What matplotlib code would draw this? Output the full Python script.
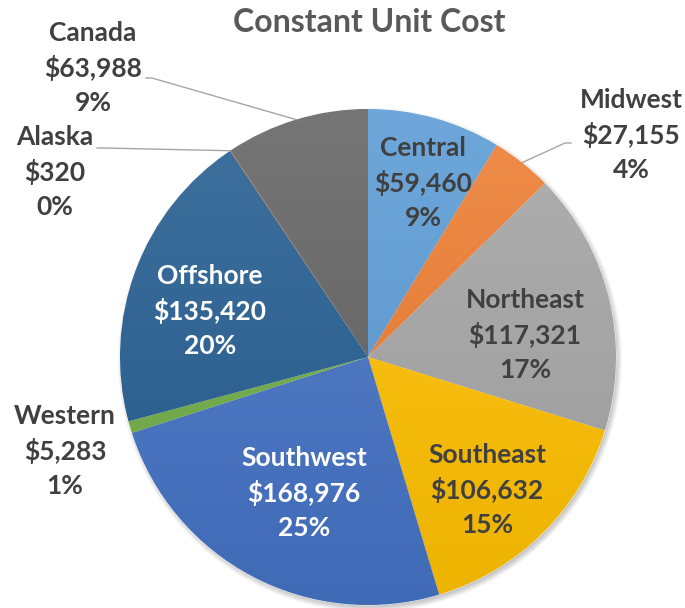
import numpy as np
import matplotlib
matplotlib.use("Agg")
import matplotlib.pyplot as plt
from matplotlib.colors import to_rgb
from matplotlib.patches import Circle

# ---- data ----
regions = ["Central", "Midwest", "Northeast", "Southeast", "Southwest",
           "Western", "Offshore", "Alaska", "Canada"]
costs = [59460, 27155, 117321, 106632, 168976, 5283, 135420, 320, 63988]
pct_labels = ["9%", "4%", "17%", "15%", "25%", "1%", "20%", "0%", "9%"]
colors = ["#5B9BD5", "#ED7D31", "#A5A5A5", "#FFC000", "#4472C4",
          "#70AD47", "#255E91", "#9E480E", "#636363"]
title = "Constant Unit Cost"

W, H = 685, 608
plt.rcParams['font.family'] = ['Lato', 'DejaVu Sans']
fig = plt.figure(figsize=(W / 100, H / 100), dpi=100)
ax = fig.add_axes([0, 0, 1, 1])

cx, cy, R = 368, H - 357, 248

# soft shadow
for i in range(8):
    ax.add_patch(Circle((cx + 2, cy - 3), R + 4 - i, facecolor="black",
                        edgecolor="none", alpha=0.035, zorder=0))

wedges, _ = ax.pie(costs, colors=colors, startangle=90, counterclock=False,
                   center=(cx, cy), radius=R,
                   wedgeprops=dict(linewidth=0.6, edgecolor="white"))

def mix(c, t, w):
    c = np.array(to_rgb(c)); t = np.array(t)
    return c * (1 - w) + t * w

n = 200
for w, col in zip(wedges, colors):
    top = mix(col, (1, 1, 1), 0.12)
    bot = mix(col, (0, 0, 0), 0.07)
    f = np.linspace(0, 1, n)[:, None]
    grad = (bot[None, :] * (1 - f) + top[None, :] * f)[:, None, :]
    im = ax.imshow(grad, extent=[cx - R, cx + R, cy - R, cy + R],
                   origin="lower", aspect="auto", zorder=2)
    im.set_clip_path(w)

ax.set_xlim(0, W)
ax.set_ylim(0, H)
ax.set_aspect("auto")
ax.axis("off")

dark = "#404040"
fs = 19

def lab(i):
    return f"{regions[i]}\n${costs[i]:,}\n{pct_labels[i]}"

# label positions in pixels (center of block)
pos = {
    "Central": (423, 183, dark),
    "Midwest": (631, 135, dark),
    "Northeast": (525, 335, dark),
    "Southeast": (487, 490, dark),
    "Southwest": (304, 493, "white"),
    "Western": (65, 451, dark),
    "Offshore": (210, 311, "white"),
    "Alaska": (55, 172, dark),
    "Canada": (93, 68, dark),
}
for i, r in enumerate(regions):
    x, y, c = pos[r]
    ax.text(x, H - y, lab(i), ha="center", va="center", ma="center",
            fontsize=fs, fontweight="bold", color=c, zorder=5,
            linespacing=1.48)

# leader lines
lead_start = {"Canada": (146, 78, 1), "Alaska": (97, 148, 1), "Midwest": (571, 143, -1)}
for r, (sx, sy, d) in lead_start.items():
    w = wedges[regions.index(r)]
    mid = np.deg2rad((w.theta1 + w.theta2) / 2)
    ex, ey = cx + R * np.cos(mid), cy + R * np.sin(mid)
    ax.plot([sx, sx + 6 * d, ex], [H - sy, H - sy, ey], color="#A6A6A6",
            lw=1, zorder=4)

ax.text(369, H - 32, title, ha="center", va="baseline", fontsize=23,
        fontweight="bold", color="#595959")

fig.savefig("out.png", dpi=100)
